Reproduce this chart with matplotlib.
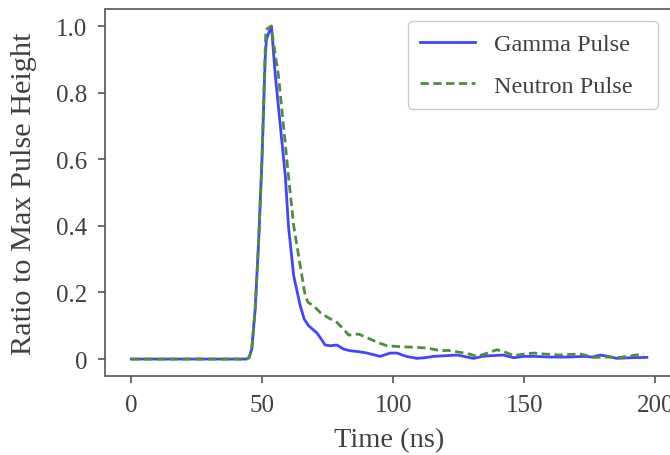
import matplotlib
matplotlib.use('Agg')
from matplotlib import pyplot as plt

# gamma pulse
gamma_t = [0, 44, 45, 46, 47.3, 48.6, 49.9, 50.5, 51.1, 51.6, 52.5, 53.5, 55, 56.9, 58.8, 60, 62,
           64.5, 66, 67.7, 70.9, 72.5, 74, 76, 78.5, 81, 83.6, 87, 90, 93, 95, 98.9, 101.4, 105,
           109, 112, 115.4, 120, 124.3, 127, 130.7, 134, 137, 142, 146, 150, 153.6, 160, 166.3,
           172.7, 176, 179, 182, 185.4, 191, 196.8]
gamma_v = [0, 0, 0.005, 0.03, 0.15, 0.35, 0.6, 0.75, 0.9, 0.96, 0.98, 1.0, 0.85, 0.70, 0.55, 0.40, 0.25,
           0.16, 0.12, 0.10, 0.078, 0.06, 0.042, 0.04, 0.042, 0.03, 0.025, 0.022, 0.018, 0.012, 0.008, 0.018, 0.018, 0.008,
           0.002, 0.004, 0.008, 0.01, 0.012, 0.008, 0.002, 0.008, 0.01, 0.012, 0.004, 0.008, 0.008, 0.006, 0.006,
           0.008, 0.006, 0.012, 0.008, 0.002, 0.004, 0.005]

# neutron pulse
neutron_t = [0, 44, 45, 46, 47.3, 48.6, 49.9, 50.5, 51.1, 51.4, 52.5, 53.4, 54.3, 56.2, 58.1, 60, 62,
             64.5, 66.4, 67.5, 69.6, 72.1, 75, 78.5, 81, 83, 86.8, 91.2, 94, 97.6, 103, 109, 113,
             118, 121, 125.6, 129, 132, 136, 139.6, 143, 146, 150, 153.6, 158, 163.7, 168, 171.4,
             174, 176.5, 181, 186.6, 191, 195.5]
neutron_v = [0, 0, 0.005, 0.03, 0.15, 0.35, 0.6, 0.77, 0.92, 0.99, 0.995, 1.0, 0.95, 0.85, 0.70, 0.55, 0.40,
             0.28, 0.19, 0.17, 0.16, 0.14, 0.125, 0.11, 0.09, 0.072, 0.075, 0.06, 0.05, 0.04, 0.037, 0.035, 0.033,
             0.025, 0.026, 0.02, 0.015, 0.008, 0.018, 0.028, 0.02, 0.01, 0.015, 0.018, 0.015, 0.012, 0.014, 0.015,
             0.01, 0.005, 0.006, 0.005, 0.01, 0.015]

xticks = [0, 50, 100, 150, 200]
yticks = [0, 0.2, 0.4, 0.6, 0.8, 1.0]
ytick_labels = ['0', '0.2', '0.4', '0.6', '0.8', '1.0']

plt.rcParams['font.family'] = ['Liberation Serif', 'DejaVu Serif']
fig = plt.figure(figsize=(6.7, 4.56), dpi=100)
ax = fig.add_axes([105.5/670, (456-376.7)/456, 567/670, 366.3/456])

ax.plot(gamma_t, gamma_v, color='#4444ff', lw=2.0, label='Gamma Pulse')
ax.plot(neutron_t, neutron_v, '--', color='#4e8c3e', lw=2.0, dashes=(3, 1.6), label='Neutron Pulse')

ax.set_xlim(-9.84, 206.6)
ax.set_ylim(-0.05, 1.05)
ax.set_xticks(xticks)
ax.set_yticks(yticks)
ax.set_yticklabels(ytick_labels)
for s in ax.spines.values():
    s.set_color('#555555')
    s.set_linewidth(1.2)
ax.tick_params(colors='#555555', labelcolor='#404040', labelsize=18, length=5, width=1.2, pad=8)
ax.set_xlabel('Time (ns)', fontsize=20.5, color='#404040', labelpad=8)
ax.set_ylabel('Ratio to Max Pulse Height', fontsize=21.8, color='#404040', labelpad=14)
# legend box stretched to the width seen in the picture
leg = ax.legend(loc='upper left', bbox_to_anchor=(0.5335, 0.9683, 0.441, 0), mode='expand',
                borderaxespad=0, fontsize=17.5, labelcolor='#404040', fancybox=True,
                edgecolor='#cccccc', framealpha=1, handlelength=2.25, labelspacing=0.8, borderpad=0.5)

fig.savefig('out.png', dpi=100)
